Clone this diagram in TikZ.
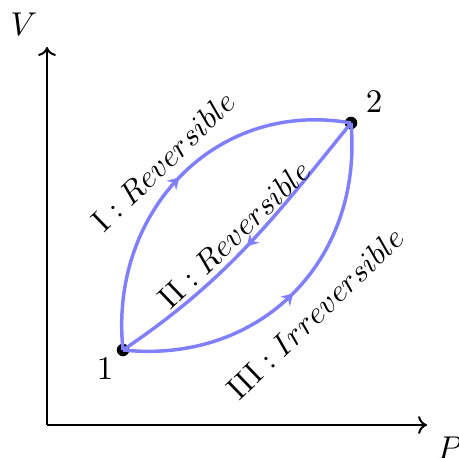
\documentclass[tikz,border=0pt]{standalone}
\usetikzlibrary{arrows.meta,decorations.markings}
\begin{document}
\begin{tikzpicture}[x=0.303pt,y=0.303pt,
  axis/.style={line width=0.6pt,-{Computer Modern Rightarrow[width=5.4pt,length=2.7pt]}},
  proc/.style={blue!50,line width=1.05pt},
  midarrow/.style={postaction={decorate},decoration={markings,mark=at position #1 with {\arrow{Stealth[length=3.5pt,width=4pt,inset=1.2pt]}}}},
  dot/.style={circle,fill=black,inner sep=0pt,minimum size=3.8pt},
  lbl/.style={inner sep=0pt},
  proclbl/.style={inner sep=0pt,rotate=44,scale=0.95}]
\useasboundingbox (0,0) rectangle (459,457);
\coordinate (O) at (47,32);
\coordinate (Vend) at (47,410);
\coordinate (Pend) at (427,32);
\draw[axis] (O) -- (Vend);
\draw[axis] (O) -- (Pend);
\node[lbl] (V) at (24,433) {$V$};
\node[lbl] (P) at (450,9) {$P$};
\node[dot] (p1) at (123,107) {};
\node[dot] (p2) at (351,334) {};
\node[lbl] (l1) at (105,88) {$1$};
\node[lbl] (l2) at (374,355) {$2$};
\draw[proc,midarrow=0.5] (p1.center) to[out=96,in=170,looseness=1.1] (p2.center);
\draw[proc,midarrow=0.5] (p2.center) to[out=231,in=34] (p1.center);
\draw[proc,midarrow=0.5] (p1.center) to[out=-6,in=-85,looseness=1.1] (p2.center);
\node[proclbl] (tI) at (163,296) {$\mathrm{I}: Reversible$};
\node[proclbl] (tII) at (234,223) {$\mathrm{II}: Reversible$};
\node[proclbl] (tIII) at (315,144) {$\mathrm{III}: Irreversible$};
\end{tikzpicture}
\end{document}
